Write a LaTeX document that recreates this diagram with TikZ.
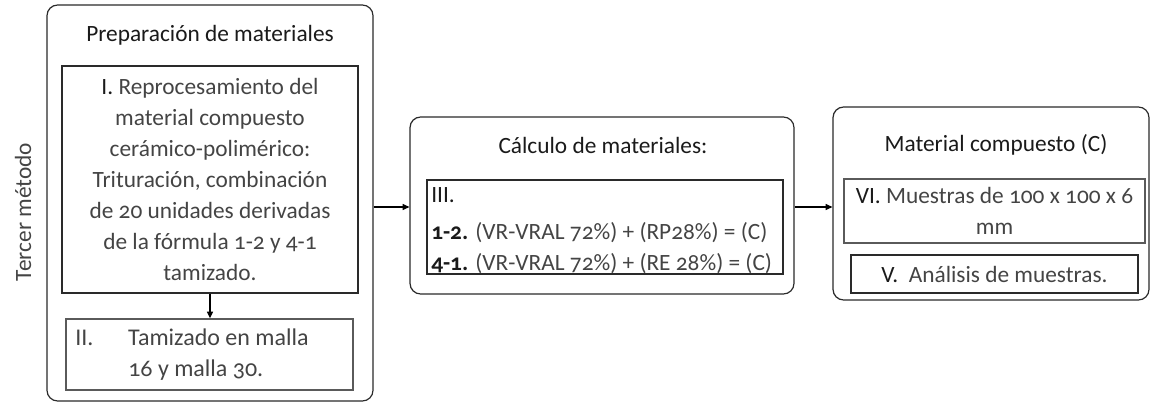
\documentclass[tikz,border=0pt]{standalone}
\usepackage{fontspec}
\setmainfont{Carlito}[Numbers=OldStyle]
\usetikzlibrary{arrows.meta}
\definecolor{txt}{HTML}{444444}
\definecolor{ttl}{HTML}{1A1A1A}
\definecolor{edgeA}{HTML}{2A2A2A}
\definecolor{edgeB}{HTML}{5A5A5A}
\begin{document}
\begin{tikzpicture}[x=0.75pt,y=-0.75pt,
  every node/.style={font=\fontsize{17.5}{23.25}\selectfont},
  outerbox/.style={draw=edgeA,line width=0.9pt,rounded corners=8pt,inner sep=0pt},
  innerbox/.style={draw=edgeA,line width=1pt,inner sep=0pt,text=txt},
  greybox/.style={draw=edgeB,line width=1pt,inner sep=0pt,text=txt},
  titletext/.style={text=ttl,inner sep=0pt},
  bodytext/.style={text=txt,inner sep=0pt},
  conn/.style={draw=black,line width=0.9pt,-{Triangle[length=5pt,width=4.5pt]}}
]
\useasboundingbox (0,0) rectangle (1152,403);

% --- column 1
\node[outerbox,minimum width=326*0.75pt,minimum height=396*0.75pt] (outer1) at (210,203) {};
\node[titletext] (t1) at (210,35) {Preparación de materiales};
\node[innerbox,minimum width=296*0.75pt,minimum height=227*0.75pt,align=center] (b1) at (210,179.5)
 {\textcolor{ttl}{I.} Reprocesamiento del\\
  material compuesto\\
  cerámico-polimérico:\\
  Trituración, combinación\\
  de 20 unidades derivadas\\
  de la fórmula 1-2 y 4-1\\
  tamizado.};
\node[greybox,minimum width=287*0.75pt,minimum height=71*0.75pt] (b2) at (209.5,354.5) {};
\node[bodytext,anchor=west,align=left,font=\fontsize{18}{23.25}\selectfont] (b2t) at (75,354.5)
 {\makebox[39.75pt][l]{II.}Tamizado en malla\\
  \hspace*{39.75pt}16 y malla 30.};
\draw[conn] (b1.south) -- (b1.south |- b2.north);
\node[bodytext,rotate=90] (side) at (23,212) {Tercer método};

% --- column 2
\node[outerbox,minimum width=384*0.75pt,minimum height=177*0.75pt] (outer2) at (602,205.5) {};
\node[titletext] (t2) at (603,145) {Cálculo de materiales:};
\node[innerbox,minimum width=356*0.75pt,minimum height=94*0.75pt] (b3) at (605,227) {};
\node[bodytext,anchor=west,align=left] (b3t) at (431,230.5)
 {\textcolor{ttl}{III.}\\[4pt]
  \textcolor{ttl}{\textbf{1-2.}} (VR-VRAL 72\%) + (RP28\%) = (C)\\
  \textcolor{ttl}{\textbf{4-1.}} (VR-VRAL 72\%) + (RE 28\%) = (C)};

% --- column 3
\node[outerbox,minimum width=316*0.75pt,minimum height=193*0.75pt] (outer3) at (991,203.5) {};
\node[titletext] (t3) at (996,145) {Material compuesto (C)};
\node[greybox,minimum width=301*0.75pt,minimum height=64*0.75pt,align=center] (b4) at (994.5,211)
 {\textcolor{ttl}{VI.} Muestras de 100 x 100 x 6\\ mm};
\node[innerbox,minimum width=287*0.75pt,minimum height=38*0.75pt] (b5) at (994.5,274)
 {\textcolor{ttl}{V.}\ \ Análisis de muestras.};

% --- connectors
\draw[conn] (outer1.east |- 0,207) -- (outer2.west |- 0,207);
\draw[conn] (outer2.east |- 0,207) -- (outer3.west |- 0,207);
\end{tikzpicture}
\end{document}
